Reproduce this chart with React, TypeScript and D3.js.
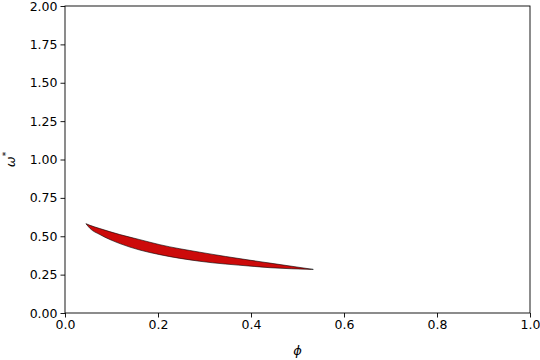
import { useEffect, useRef } from "react"
import * as d3 from "d3"

// phi positions along the band, with upper and lower edge values
const phiValues = [0.045, 0.054, 0.075, 0.118, 0.161, 0.204, 0.29, 0.4, 0.441, 0.534]
const upperOmega = [0.582, 0.571, 0.55, 0.511, 0.478, 0.445, 0.396, 0.343, 0.325, 0.284]
const lowerOmega = [0.582, 0.55, 0.511, 0.452, 0.41, 0.38, 0.337, 0.305, 0.295, 0.284]

const xTicks = [0, 0.2, 0.4, 0.6, 0.8, 1.0]
const yTicks = [0, 0.25, 0.5, 0.75, 1.0, 1.25, 1.5, 1.75, 2.0]

interface BandPoint {
  phi: number
  upper: number
  lower: number
}

export default function App() {
  const svgRef = useRef<SVGSVGElement>(null)

  useEffect(() => {
    if (!svgRef.current) return
    const svg = d3.select(svgRef.current)
    svg.selectAll("*").remove()

    const width = 540
    const height = 360
    const margin = { top: 6, right: 10, bottom: 47, left: 65 }

    const x = d3.scaleLinear().domain([0, 1]).range([margin.left, width - margin.right])
    const y = d3.scaleLinear().domain([0, 2]).range([height - margin.bottom, margin.top])

    const font = "DejaVu Sans, sans-serif"

    const data: BandPoint[] = phiValues.map((p, i) => ({
      phi: p,
      upper: upperOmega[i],
      lower: lowerOmega[i],
    }))

    // Filled band
    const area = d3.area<BandPoint>()
      .x(d => x(d.phi))
      .y0(d => y(d.lower))
      .y1(d => y(d.upper))
      .curve(d3.curveMonotoneX)

    svg
      .append("path")
      .datum(data)
      .attr("d", area)
      .attr("fill", "#cc0a0a")
      .attr("stroke", "#000")
      .attr("stroke-width", 0.6)

    // Axes
    const xAxis = svg
      .append("g")
      .attr("transform", `translate(0,${y(0)})`)
      .call(d3.axisBottom(x).tickValues(xTicks).tickFormat(d3.format(".1f")).tickSize(4.5).tickPadding(3))

    const yAxis = svg
      .append("g")
      .attr("transform", `translate(${x(0)},0)`)
      .call(d3.axisLeft(y).tickValues(yTicks).tickFormat(d3.format(".2f")).tickSize(4.5).tickPadding(3))

    ;[xAxis, yAxis].forEach(g => {
      g.select(".domain").remove()
      g.selectAll("line").attr("stroke", "#000").attr("stroke-width", 0.9)
      g.selectAll("text").attr("font-family", font).attr("font-size", "12.5px").attr("fill", "#000")
    })

    // Frame
    svg
      .append("rect")
      .attr("x", x(0))
      .attr("y", y(2))
      .attr("width", x(1) - x(0))
      .attr("height", y(0) - y(2))
      .attr("fill", "none")
      .attr("stroke", "#000")
      .attr("stroke-width", 0.9)

    // Axis labels
    svg
      .append("text")
      .attr("x", (x(0) + x(1)) / 2)
      .attr("y", 355)
      .attr("text-anchor", "middle")
      .attr("font-family", font)
      .attr("font-style", "italic")
      .attr("font-size", "13px")
      .text("ϕ")

    const yLabel = svg
      .append("text")
      .attr("transform", `translate(15,${(y(0) + y(2)) / 2}) rotate(-90)`)
      .attr("text-anchor", "middle")
      .attr("font-family", font)
      .attr("font-size", "13px")

    yLabel.append("tspan").attr("font-style", "italic").text("ω")
    yLabel.append("tspan").attr("font-size", "9px").attr("dy", "-6").text("*")
  }, [])

  return (
    <svg
      ref={svgRef}
      width={540}
      height={360}
      style={{ position: "absolute", left: 0, top: 0, background: "#fff" }}
    />
  )
}
